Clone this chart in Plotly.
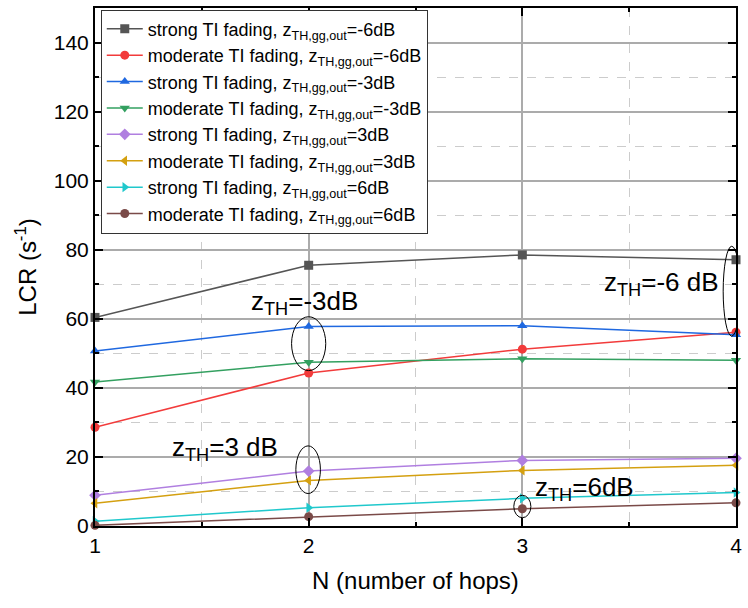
import plotly.graph_objects as go

hops = [1, 2, 3, 4]

strong_m6 = [60.4, 75.5, 78.5, 77.1]
moderate_m6 = [28.6, 44.3, 51.2, 56.1]
strong_m3 = [50.7, 57.8, 58.0, 55.4]
moderate_m3 = [41.7, 47.4, 48.4, 48.0]
strong_p3 = [8.9, 15.9, 19.0, 19.6]
moderate_p3 = [6.6, 13.2, 16.1, 17.6]
strong_p6 = [1.4, 5.3, 8.0, 9.7]
moderate_p6 = [0.2, 2.7, 5.0, 6.7]

series_names = [
    "strong TI fading, z<sub>TH,gg,out</sub>=-6dB",
    "moderate TI fading, z<sub>TH,gg,out</sub>=-6dB",
    "strong TI fading, z<sub>TH,gg,out</sub>=-3dB",
    "moderate TI fading, z<sub>TH,gg,out</sub>=-3dB",
    "strong TI fading, z<sub>TH,gg,out</sub>=3dB",
    "moderate TI fading, z<sub>TH,gg,out</sub>=3dB",
    "strong TI fading, z<sub>TH,gg,out</sub>=6dB",
    "moderate TI fading, z<sub>TH,gg,out</sub>=6dB",
]
series_values = [strong_m6, moderate_m6, strong_m3, moderate_m3,
                 strong_p3, moderate_p3, strong_p6, moderate_p6]
colors = ["#555555", "#F23B3B", "#1F68E0", "#33A060",
          "#B07FE0", "#D4A010", "#20C8CC", "#7A4A48"]
symbols = ["square", "circle", "triangle-up", "triangle-down",
           "diamond", "triangle-left", "triangle-right", "circle"]

# annotation labels
label_texts = ["z<sub>TH</sub>=-3dB", "z<sub>TH</sub>=-6 dB", "z<sub>TH</sub>=3 dB", "z<sub>TH</sub>=6dB"]
label_x = [1.98, 3.65, 1.61, 3.29]
label_y = [64.6, 70.3, 22.4, 11.0]

# ellipses: (x0, x1, y0, y1)
ellipses = [
    (1.92, 2.08, 45.0, 60.6),
    (3.94, 4.02, 55.0, 81.0),
    (1.94, 2.055, 9.4, 23.2),
    (2.96, 3.04, 2.4, 8.9),
]

fig = go.Figure()
for i, (name, vals, col, sym) in enumerate(zip(series_names, series_values, colors, symbols)):
    fig.add_trace(go.Scatter(
        x=hops, y=vals, name=name, mode="lines+markers",
        legendgroup=f"g{i}",
        line=dict(color=col, width=1.5),
        marker=dict(color=col, symbol=sym, size=9),
        cliponaxis=False,
    ))

for t, x, y in zip(label_texts, label_x, label_y):
    fig.add_annotation(x=x, y=y, xref="x", yref="y", text=t, showarrow=False,
                       font=dict(family="Arial", size=26, color="black"))

for (x0, x1, y0, y1) in ellipses:
    fig.add_shape(type="circle", xref="x", yref="y", x0=x0, x1=x1, y0=y0, y1=y1,
                  line=dict(color="black", width=1))

axis_common = dict(
    showline=True, linecolor="black", linewidth=2, mirror="allticks",
    ticks="inside", ticklen=8, tickwidth=2, tickcolor="black",
    tickfont=dict(family="Arial", size=21, color="black"),
    showgrid=True, gridcolor="#ababab", gridwidth=1.5,
    zeroline=False,
)

fig.update_xaxes(
    range=[1, 4], tickmode="array", tickvals=hops, ticktext=[str(h) for h in hops],
    title=dict(text="N (number of hops)", font=dict(family="Arial", size=24, color="black"), standoff=16),
    minor=dict(dtick=0.5, ticks="inside", ticklen=4, tickwidth=1.5, tickcolor="black",
               showgrid=True, gridcolor="#cccccc", griddash="dash", gridwidth=1),
    **axis_common,
)
fig.update_yaxes(
    range=[0, 150], dtick=20, tick0=0,
    title=dict(text="LCR (s<sup>-1</sup>)", font=dict(family="Arial", size=24, color="black"), standoff=10),
    minor=dict(dtick=10, ticks="inside", ticklen=4, tickwidth=1.5, tickcolor="black",
               showgrid=True, gridcolor="#cccccc", griddash="dash", gridwidth=1),
    **axis_common,
)

fig.update_layout(
    width=748, height=608,
    margin=dict(l=95, r=7, t=6, b=82),
    paper_bgcolor="white", plot_bgcolor="white",
    showlegend=True,
    legend=dict(x=0.009, y=0.997, xanchor="left", yanchor="top",
                bgcolor="white", bordercolor="#333333", borderwidth=1,
                font=dict(family="Arial", size=18, color="black"),
                tracegroupgap=0, itemwidth=36),
)

fig.write_html("out.html")
